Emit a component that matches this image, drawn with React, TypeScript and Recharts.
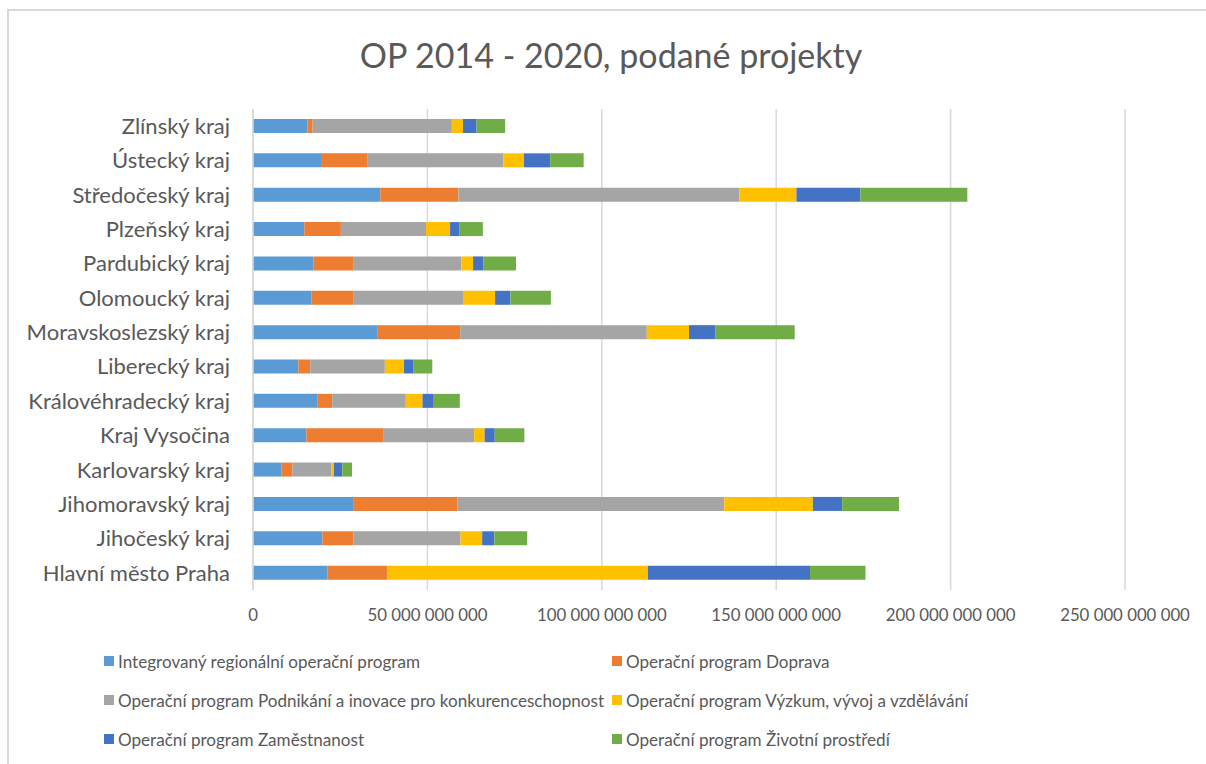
import React from 'react';
import { BarChart, Bar, XAxis, YAxis, CartesianGrid } from 'recharts';

const categories = [
  'Zlínský kraj',
  'Ústecký kraj',
  'Středočeský kraj',
  'Plzeňský kraj',
  'Pardubický kraj',
  'Olomoucký kraj',
  'Moravskoslezský kraj',
  'Liberecký kraj',
  'Královéhradecký kraj',
  'Kraj Vysočina',
  'Karlovarský kraj',
  'Jihomoravský kraj',
  'Jihočeský kraj',
  'Hlavní město Praha',
];

const irop = [15.6e9, 19.5e9, 36.5e9, 14.7e9, 17.3e9, 16.7e9, 35.6e9, 13.0e9, 18.4e9, 15.3e9, 8.1e9, 28.7e9, 19.9e9, 21.3e9];
const opd = [1.5e9, 13.4e9, 22.4e9, 10.5e9, 11.4e9, 12.0e9, 23.8e9, 3.4e9, 4.3e9, 22.0e9, 3.2e9, 29.9e9, 8.9e9, 17.1e9];
const oppik = [39.9e9, 38.9e9, 80.5e9, 24.4e9, 31.0e9, 31.5e9, 53.5e9, 21.4e9, 21.1e9, 26.1e9, 11.1e9, 76.5e9, 30.7e9, 0];
const opvvv = [3.2e9, 5.9e9, 16.4e9, 6.9e9, 3.4e9, 9.2e9, 12.1e9, 5.5e9, 4.8e9, 3.0e9, 0.8e9, 25.4e9, 6.2e9, 74.8e9];
const opz = [3.9e9, 7.5e9, 18.3e9, 2.6e9, 3.0e9, 4.4e9, 7.5e9, 2.6e9, 3.0e9, 2.9e9, 2.4e9, 8.4e9, 3.5e9, 46.5e9];
const opzp = [8.2e9, 9.6e9, 30.7e9, 6.8e9, 9.3e9, 11.6e9, 22.8e9, 5.5e9, 7.7e9, 8.5e9, 2.8e9, 16.3e9, 9.4e9, 15.9e9];

const xTicks = [0, 50e9, 100e9, 150e9, 200e9, 250e9];

const series = [
  { key: 'irop', name: 'Integrovaný regionální operační program', color: '#5B9BD5', values: irop },
  { key: 'opd', name: 'Operační program Doprava', color: '#ED7D31', values: opd },
  { key: 'oppik', name: 'Operační program Podnikání a inovace pro konkurenceschopnost', color: '#A5A5A5', values: oppik },
  { key: 'opvvv', name: 'Operační program Výzkum, vývoj a vzdělávání', color: '#FFC000', values: opvvv },
  { key: 'opz', name: 'Operační program Zaměstnanost', color: '#4472C4', values: opz },
  { key: 'opzp', name: 'Operační program Životní prostředí', color: '#70AD47', values: opzp },
];

const data = categories.map((c, i) => {
  const row: Record<string, any> = { kraj: c };
  series.forEach((s) => {
    row[s.key] = s.values[i];
  });
  return row;
});

const fmt = (v: number) => String(Math.round(v)).replace(/\B(?=(\d{3})+(?!\d))/g, ' ');

const FONT = 'Lato, "Open Sans", sans-serif';
const TEXT = '#595959';

export default function App() {
  return (
    <div
      style={{
        position: 'absolute',
        left: 0,
        top: 0,
        width: 1206,
        height: 764,
        background: '#fff',
        fontFamily: FONT,
        overflow: 'hidden',
      }}
    >
      <div
        style={{
          position: 'absolute',
          left: 7,
          top: 9,
          width: 1260,
          height: 800,
          border: '2px solid #d9d9d9',
          boxSizing: 'border-box',
        }}
      />
      <div
        style={{
          position: 'absolute',
          left: 0,
          width: 1222,
          top: 34,
          textAlign: 'center',
          fontSize: 34,
          color: TEXT,
          lineHeight: '42px',
        }}
      >
        OP 2014 - 2020, podané projekty
      </div>
      <div style={{ position: 'absolute', left: 0, top: 0 }}>
        <BarChart
          width={1206}
          height={764}
          data={data}
          layout="vertical"
          margin={{ top: 109, right: 81, left: 0, bottom: 144 }}
          barSize={14}
        >
          <CartesianGrid horizontal={false} stroke="#d9d9d9" strokeWidth={1.5} />
          <XAxis
            type="number"
            domain={[0, 250e9]}
            ticks={xTicks}
            tickFormatter={fmt}
            axisLine={false}
            tickLine={false}
            tickMargin={13}
            height={30}
            tick={{ fill: TEXT, fontSize: 16.8, fontFamily: FONT }}
            interval={0}
          />
          <YAxis
            type="category"
            dataKey="kraj"
            width={253}
            axisLine={{ stroke: '#d9d9d9', strokeWidth: 1.5 }}
            tickLine={false}
            tickMargin={17}
            tick={{ fill: TEXT, fontSize: 22, fontFamily: FONT }}
            interval={0}
          />
          {series.map((s) => (
            <Bar
              key={s.key}
              dataKey={s.key}
              name={s.name}
              stackId="a"
              fill={s.color}
              isAnimationActive={false}
            />
          ))}
        </BarChart>
      </div>
      {series.map((s, i) => {
        const col = i % 2;
        const row = Math.floor(i / 2);
        return (
          <div
            key={s.key}
            style={{
              position: 'absolute',
              left: col === 0 ? 104 : 612,
              top: 651 + row * 39,
              height: 20,
              display: 'flex',
              alignItems: 'center',
              fontSize: 17.1,
              color: TEXT,
              whiteSpace: 'nowrap',
            }}
          >
            <span style={{ display: 'inline-block', width: 10, height: 10, background: s.color, marginRight: 4 }} />
            <span>{s.name}</span>
          </div>
        );
      })}
    </div>
  );
}
